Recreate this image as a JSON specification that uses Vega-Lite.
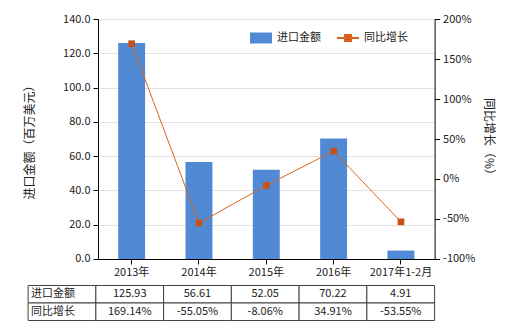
{
  "$schema": "https://vega.github.io/schema/vega-lite/v6.json",
  "padding": {"left": 23, "top": 13, "right": 5, "bottom": 5},
  "background": "#ffffff",
  "config": {
    "font": "Noto Sans CJK SC",
    "view": {"stroke": null},
    "axis": {"labelFontSize": 11, "labelColor": "#222222", "titleFontSize": 12, "titleFontWeight": "normal", "titleColor": "#222222", "domainColor": "#000000", "tickColor": "#000000", "tickSize": 5}
  },
  "datasets": {
    "main": [
      {"year": "2013年", "amount": 125.93, "growth": 169.14},
      {"year": "2014年", "amount": 56.61, "growth": -55.05},
      {"year": "2015年", "amount": 52.05, "growth": -8.06},
      {"year": "2016年", "amount": 70.22, "growth": 34.91},
      {"year": "2017年1-2月", "amount": 4.91, "growth": -53.55}
    ],
    "table": [
      {"col": "h", "row": "进口金额", "label": "进口金额"},
      {"col": "h", "row": "同比增长", "label": "同比增长"},
      {"col": "2013年", "row": "进口金额", "label": "125.93"},
      {"col": "2013年", "row": "同比增长", "label": "169.14%"},
      {"col": "2014年", "row": "进口金额", "label": "56.61"},
      {"col": "2014年", "row": "同比增长", "label": "-55.05%"},
      {"col": "2015年", "row": "进口金额", "label": "52.05"},
      {"col": "2015年", "row": "同比增长", "label": "-8.06%"},
      {"col": "2016年", "row": "进口金额", "label": "70.22"},
      {"col": "2016年", "row": "同比增长", "label": "34.91%"},
      {"col": "2017年1-2月", "row": "进口金额", "label": "4.91"},
      {"col": "2017年1-2月", "row": "同比增长", "label": "-53.55%"}
    ]
  },
  "bounds": "flush",
  "spacing": 26.5,
  "vconcat": [
    {
      "width": 336.6,
      "height": 240,
      "data": {"name": "main"},
      "encoding": {
        "x": {"field": "year", "type": "nominal", "sort": null,
              "scale": {"paddingInner": 0, "paddingOuter": 0},
              "axis": {"title": null, "labelAngle": 0, "labelPadding": 3, "grid": false}}
      },
      "layer": [
        {
          "mark": {"type": "bar", "width": {"band": 0.4}},
          "encoding": {
            "y": {"field": "amount", "type": "quantitative", "scale": {"domain": [0, 140]},
                  "axis": {"title": "进口金额（百万美元）", "values": [0, 20, 40, 60, 80, 100, 120, 140], "format": ".1f", "grid": true, "gridColor": "#e3e3e3", "labelPadding": 3, "titlePadding": 26}},
            "fill": {"datum": "进口金额", "type": "nominal", "scale": {"range": ["#5089d4"]},
                     "legend": {"title": null, "orient": "none", "legendX": 151, "legendY": 7, "symbolType": "M-1,-0.5H1V0.5H-1Z", "symbolSize": 484, "labelFontSize": 11, "labelColor": "#222222", "symbolOpacity": 1}}
          }
        },
        {
          "mark": {"type": "line", "strokeWidth": 1},
          "encoding": {
            "y": {"field": "growth", "type": "quantitative", "scale": {"domain": [-100, 200]},
                  "axis": {"orient": "right", "title": "同比增长（%）", "titleAngle": 90, "values": [-100, -50, 0, 50, 100, 150, 200], "labelExpr": "datum.value + '%'", "grid": false, "labelPadding": 3, "titlePadding": 7}},
            "stroke": {"datum": "同比增长", "type": "nominal", "scale": {"range": ["#d9651e"]},
                       "legend": {"title": null, "orient": "none", "legendX": 238, "legendY": 7, "symbolType": "M-1,0H1M-0.28,-0.28H0.28V0.28H-0.28Z", "symbolSize": 484, "symbolStrokeWidth": 2, "labelFontSize": 11, "labelColor": "#222222",
                                  "encode": {"symbols": {"update": {"fill": {"value": "#c8501a"}, "stroke": {"value": "#c4521c"}}}}}}
          }
        },
        {
          "mark": {"type": "point", "shape": "square", "filled": true, "size": 45, "color": "#c8501a", "opacity": 1},
          "encoding": {
            "y": {"field": "growth", "type": "quantitative", "scale": {"domain": [-100, 200]}, "axis": null}
          }
        }
      ],
      "resolve": {"scale": {"y": "independent", "fill": "independent", "stroke": "independent"}}
    },
    {
      "width": 336.6,
      "height": 35,
      "data": {"name": "table"},
      "encoding": {
        "x": {"field": "col", "type": "nominal", "sort": null,
              "scale": {"domain": ["h", "2013年", "2014年", "2015年", "2016年", "2017年1-2月"], "range": [-69.9, 336.6], "paddingInner": 0, "paddingOuter": 0},
              "axis": null},
        "y": {"field": "row", "type": "nominal", "sort": null,
              "scale": {"domain": ["进口金额", "同比增长"], "paddingInner": 0, "paddingOuter": 0},
              "axis": null}
      },
      "layer": [
        {"mark": {"type": "rect", "fill": "#ffffff", "stroke": "#404040", "strokeWidth": 1}},
        {"transform": [{"filter": "datum.col == 'h'"}],
         "mark": {"type": "text", "align": "left", "dx": -31, "fontSize": 11, "color": "#222222"},
         "encoding": {"text": {"field": "label"}}},
        {"transform": [{"filter": "datum.col != 'h'"}],
         "mark": {"type": "text", "align": "center", "fontSize": 11, "color": "#222222"},
         "encoding": {"text": {"field": "label"}}}
      ]
    }
  ]
}
